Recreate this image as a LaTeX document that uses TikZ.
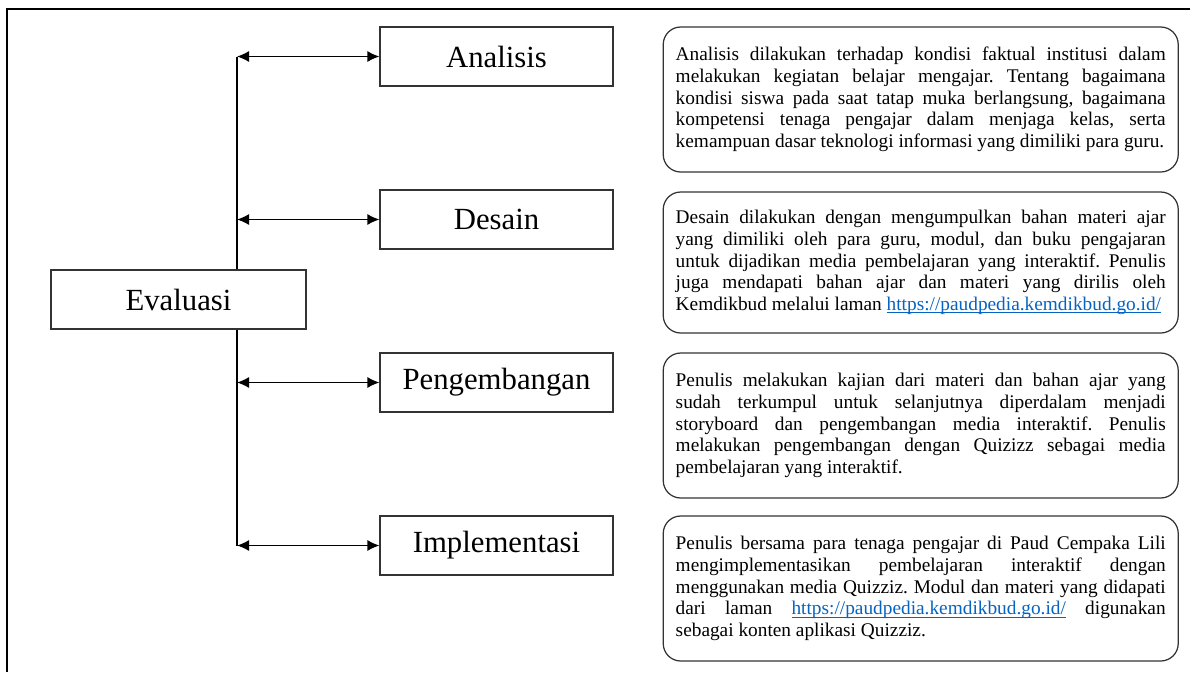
\documentclass[tikz,border=0pt]{standalone}
\usepackage{fontspec}
\setmainfont{Liberation Serif}
\usetikzlibrary{arrows.meta}
\hyphenpenalty=10000
\exhyphenpenalty=10000
\frenchspacing
\definecolor{linkblue}{RGB}{5,99,193}
\tikzstyle{stage} = [rectangle, minimum width=4.66cm, minimum height=1.18cm, text centered, draw=black!80, line width=0.7pt, fill=white, font=\fontsize{17.5}{20}\selectfont]
\tikzstyle{desc} = [rectangle, rounded corners=0.35cm, text width=9.8cm, inner xsep=0.25cm, minimum height=2.9cm,
align=justify,
draw=black!80,
line width=0.7pt,
font=\fontsize{11}{12.3}\selectfont]
\tikzstyle{arrow} = [line width=0.7pt,<->,>={Latex[length=2.4mm,width=2.2mm]}]
\tikzstyle{spineline} = [line width=0.7pt]
\newlength{\lamanwd}
\newcommand{\lamantext}{https://paudpedia.kemdikbud.go.id/}
\newcommand{\laman}{\textcolor{linkblue}{\settowidth{\lamanwd}{\lamantext}\rlap{\rule[-1.6pt]{\lamanwd}{0.5pt}}\lamantext}}

\begin{document}
\begin{tikzpicture}[node distance=3.26cm]
\useasboundingbox (0,0) rectangle (23.8,-13.44);
\draw[line width=1.3pt] (0.14,-13.44) -- (0.14,-0.18) -- (23.8,-0.18);

\node (eva) [stage, minimum width=5.1cm] at (3.57,-5.99) {Evaluasi};
\node (ana) [stage] at (9.93,-1.13) {Analisis};
\node (des) [stage, below of=ana] {Desain};
\node (pen) [stage, below of=des] {Pengembangan};
\node (imp) [stage, below of=pen] {Implementasi};
\coordinate (spine) at (4.74,0);

\node (anatext) [desc, anchor=north west] at ([xshift=0.98cm]ana.north east) {Analisis dilakukan terhadap kondisi faktual institusi dalam\linebreak
melakukan kegiatan belajar mengajar. Tentang bagaimana\linebreak
kondisi siswa pada saat tatap muka berlangsung, bagaimana\linebreak
kompetensi tenaga pengajar dalam menjaga kelas, serta\linebreak
kemampuan dasar teknologi informasi yang dimiliki para guru.};
\node (destext) [desc, anchor=north west, minimum height=2.82cm] at ([xshift=0.98cm,yshift=-0.04cm]des.north east) {Desain dilakukan dengan mengumpulkan bahan materi ajar\linebreak
yang dimiliki oleh para guru, modul, dan buku pengajaran\linebreak
untuk dijadikan media pembelajaran yang interaktif. Penulis\linebreak
juga mendapati bahan ajar dan materi yang dirilis oleh\linebreak
Kemdikbud melalui laman \laman};
\node (pentext) [desc, anchor=north west] at ([xshift=0.98cm]pen.north east) {Penulis melakukan kajian dari materi dan bahan ajar yang\linebreak
sudah terkumpul untuk selanjutnya diperdalam menjadi\linebreak
storyboard dan pengembangan media interaktif. Penulis\linebreak
melakukan pengembangan dengan Quizizz sebagai media\linebreak
pembelajaran yang interaktif.};
\node (imptext) [desc, anchor=north west] at ([xshift=0.98cm]imp.north east) {Penulis bersama para tenaga pengajar di Paud Cempaka Lili\linebreak
mengimplementasikan pembelajaran interaktif dengan\linebreak
menggunakan media Quizziz. Modul dan materi yang didapati\linebreak
dari laman \laman{} digunakan\linebreak
sebagai konten aplikasi Quizziz.};

\draw [spineline] (ana.west -| spine) -- (eva.north -| spine);
\draw [spineline] (eva.south -| spine) -- (imp.west -| spine);
\draw [arrow] (ana.west -| spine) -- (ana.west);
\draw [arrow] (des.west -| spine) -- (des.west);
\draw [arrow] (pen.west -| spine) -- (pen.west);
\draw [arrow] (imp.west -| spine) -- (imp.west);

\end{tikzpicture}
\end{document}
